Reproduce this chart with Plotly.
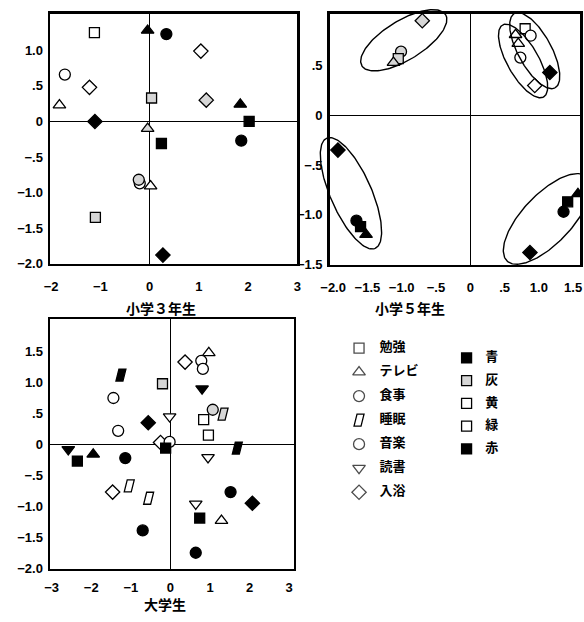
import numpy as np
import plotly.graph_objects as go

W, H = 584, 622

# ---------------- data ----------------
activities = ["勉強", "テレビ", "食事", "睡眠", "音楽", "読書", "入浴"]
colors = ["青", "灰", "黄", "緑", "赤"]

# 小学3年生
p1_act = ["勉強", "テレビ", "食事", "入浴", "食事", "入浴", "テレビ", "勉強", "入浴", "テレビ",
          "入浴", "勉強", "テレビ", "勉強", "音楽", "食事", "音楽", "テレビ", "勉強", "入浴"]
p1_col = ["黄", "青", "赤", "緑", "黄", "黄", "緑", "灰", "灰", "赤",
          "青", "青", "灰", "赤", "赤", "緑", "灰", "黄", "灰", "赤"]
p1_x = [-1.12, -0.04, 0.34, 1.04, -1.72, -1.22, -1.83, 0.04, 1.15, 1.84,
        -1.11, 2.02, -0.04, 0.24, 1.86, -0.20, -0.22, 0.02, -1.10, 0.27]
p1_y = [1.25, 1.28, 1.23, 0.99, 0.66, 0.48, 0.23, 0.33, 0.30, 0.24,
        0.00, 0.00, -0.10, -0.31, -0.27, -0.87, -0.82, -0.91, -1.35, -1.88]

# 小学5年生
p2_act = ["入浴", "食事", "勉強", "テレビ",
          "テレビ", "テレビ", "勉強", "食事", "音楽", "入浴", "入浴",
          "テレビ", "勉強", "食事", "入浴",
          "勉強", "テレビ", "食事", "入浴"]
p2_col = ["灰", "灰", "灰", "灰",
          "黄", "緑", "黄", "黄", "緑", "緑", "赤",
          "青", "青", "青", "青",
          "赤", "赤", "赤", "赤"]
p2_x = [-0.70, -1.01, -1.05, -1.12,
        0.66, 0.70, 0.80, 0.88, 0.73, 0.94, 1.16,
        -1.52, -1.60, -1.66, -1.93,
        1.42, 1.57, 1.36, 0.87]
p2_y = [0.95, 0.64, 0.57, 0.53,
        0.81, 0.72, 0.87, 0.80, 0.58, 0.30, 0.43,
        -1.20, -1.12, -1.06, -0.35,
        -0.87, -0.79, -0.97, -1.38]

# groupings (ellipses) for 小学5年生: centre in data units
ell_cx = [-0.97, 0.77, 0.94, -1.74, 1.12]
ell_cy = [0.754, 0.546, 0.650, -0.784, -1.042]

# 大学生
p3_act = ["入浴", "テレビ", "食事", "音楽", "睡眠", "勉強", "読書", "食事", "読書", "音楽",
          "睡眠", "勉強", "入浴", "音楽", "勉強", "入浴", "食事", "勉強", "睡眠", "読書",
          "テレビ", "勉強", "食事", "読書", "睡眠", "入浴", "音楽", "睡眠", "入浴", "読書",
          "勉強", "テレビ", "音楽", "食事"]
p3_col = ["黄", "緑", "黄", "緑", "青", "灰", "赤", "緑", "黄", "灰",
          "灰", "黄", "青", "黄", "緑", "緑", "黄", "青", "赤", "青",
          "青", "赤", "青", "緑", "黄", "黄", "赤", "緑", "赤", "黄",
          "赤", "黄", "青", "赤"]
p3_x = [0.37, 0.97, 0.78, 0.82, -1.25, -0.20, 0.80, -1.44, -0.02, 1.07,
        1.33, 0.84, -0.56, -1.32, 0.96, -0.25, -0.02, -0.12, 1.69, -2.58,
        -1.95, -2.35, -1.14, 0.95, -1.04, -1.46, 1.52, -0.55, 2.07, 0.64,
        0.74, 1.29, -0.70, 0.64]
p3_y = [1.33, 1.48, 1.35, 1.22, 1.12, 0.98, 0.90, 0.75, 0.45, 0.56,
        0.49, 0.40, 0.35, 0.22, 0.15, 0.03, 0.04, -0.06, -0.06, -0.08,
        -0.16, -0.27, -0.22, -0.21, -0.67, -0.77, -0.77, -0.87, -0.95, -0.96,
        -1.19, -1.23, -1.39, -1.75]

# axis ticks
p1_xt = [-2, -1, 0, 1, 2, 3]
p1_xl = ["−2", "−1", "0", "1", "2", "3"]
p1_yt = [1.0, 0.5, 0, -0.5, -1.0, -1.5, -2.0]
p1_yl = ["1.0", ".5", "0", "−.5", "−1.0", "−1.5", "−2.0"]
p2_xt = [-2.0, -1.5, -1.0, -0.5, 0, 0.5, 1.0, 1.5]
p2_xl = ["−2.0", "−1.5", "−1.0", "−.5", "0", ".5", "1.0", "1.5"]
p2_yt = [0.5, 0, -0.5, -1.0, -1.5]
p2_yl = [".5", "0", "−.5", "−1.0", "−1.5"]
p3_xt = [-3, -2, -1, 0, 1, 2, 3]
p3_xl = ["−3", "−2", "−1", "0", "1", "2", "3"]
p3_yt = [1.5, 1.0, 0.5, 0, -0.5, -1.0, -1.5, -2.0]
p3_yl = ["1.5", "1.0", ".5", "0", "−.5", "−1.0", "−1.5", "−2.0"]

titles = ["小学３年生", "小学５年生", "大学生"]

# ---------------- style ----------------
SYMBOL = {"勉強": "square", "テレビ": "triangle-up", "食事": "circle", "音楽": "circle",
          "読書": "triangle-down", "入浴": "diamond"}
SIZE = {"勉強": 10, "テレビ": 11, "食事": 11, "音楽": 11, "読書": 11, "入浴": 11}
FILL = {"青": "#000000", "灰": "#d6d6d6", "黄": "#ffffff", "緑": "#ffffff", "赤": "#000000"}
PARA = "M -5,-6 L 2,-6 L 5,6 L -2,6 Z"
NUMFONT = dict(family="Liberation Sans, Arial, sans-serif", size=13, color="black", weight="bold")
JPFONT = "Noto Sans CJK JP, sans-serif"
CLEAR = "rgba(0,0,0,0)"

# panel boxes in pixels: (left, right, top, bottom) and ranges
boxes = {
    1: dict(px=(42, 295, 14, 267), xr=[-2.02, 3.0], yr=[-2.005, 1.514], sx=9),
    2: dict(px=(328, 584, 14, 268), xr=[-2.05, 1.6], yr=[-1.505, 1.02], sx=9),
    3: dict(px=(42, 291, 323, 575), xr=[-3.04, 3.11], yr=[-2.005, 2.02], sx=5),
}


def dom(l, r, t, b):
    return [l / W, r / W], [1 - b / H, 1 - t / H]


fig = go.Figure()
shapes = []


def add_panel(k, acts, cols, xs, ys, xt, xl, yt, yl):
    b = boxes[k]
    dx, dy = dom(*b["px"])
    sx = "" if k == 1 else str(k)
    axis_common = dict(showline=True, mirror=True, linewidth=2.5, linecolor="black",
                       showgrid=False, zeroline=True, zerolinecolor="black", zerolinewidth=1.2,
                       ticks="", tickfont=NUMFONT, fixedrange=True, ticklabeloverflow="allow")
    fig.layout["xaxis" + sx] = dict(domain=dx, range=b["xr"], anchor="y" + sx,
                                    tickvals=xt, ticktext=xl, ticklabelstandoff=b["sx"],
                                    **axis_common)
    fig.layout["yaxis" + sx] = dict(domain=dy, range=b["yr"], anchor="x" + sx,
                                    tickvals=yt, ticktext=yl, ticklabelstandoff=2, **axis_common)
    idx = [i for i, a in enumerate(acts) if a != "睡眠"]
    fig.add_trace(go.Scatter(
        x=[xs[i] for i in idx], y=[ys[i] for i in idx], mode="markers",
        xaxis="x" + sx, yaxis="y" + sx, showlegend=False, hoverinfo="skip",
        marker=dict(symbol=[SYMBOL[acts[i]] for i in idx],
                    size=[SIZE[acts[i]] for i in idx],
                    color=[FILL[cols[i]] for i in idx], opacity=1,
                    line=dict(color="black", width=1.3))))
    for i, a in enumerate(acts):
        if a == "睡眠":
            shapes.append(dict(type="path", xref="x" + sx, yref="y" + sx,
                               xsizemode="pixel", ysizemode="pixel",
                               xanchor=xs[i], yanchor=ys[i], path=PARA,
                               fillcolor=FILL[cols[i]], line=dict(color="black", width=1.3),
                               layer="above"))


add_panel(1, p1_act, p1_col, p1_x, p1_y, p1_xt, p1_xl, p1_yt, p1_yl)
add_panel(2, p2_act, p2_col, p2_x, p2_y, p2_xt, p2_xl, p2_yt, p2_yl)
add_panel(3, p3_act, p3_col, p3_x, p3_y, p3_xt, p3_xl, p3_yt, p3_yl)

# ---- ellipses for panel 2 on an unclipped overlay axis with the same scale ----
b2 = boxes[2]
l2, r2, t2, bt2 = b2["px"]
xs2 = (r2 - l2) / (b2["xr"][1] - b2["xr"][0])
ys2 = (bt2 - t2) / (b2["yr"][1] - b2["yr"][0])
ov = (296, 584, 0, 300)
ovx = [b2["xr"][0] + (ov[0] - l2) / xs2, b2["xr"][0] + (ov[1] - l2) / xs2]
ovy = [b2["yr"][0] - (ov[3] - bt2) / ys2, b2["yr"][0] + (bt2 - ov[2]) / ys2]
dxo, dyo = dom(*ov)
fig.layout["xaxis4"] = dict(domain=dxo, range=ovx, visible=False, anchor="y4", fixedrange=True)
fig.layout["yaxis4"] = dict(domain=dyo, range=ovy, visible=False, anchor="x4", fixedrange=True)

ell_a = [50, 42, 43, 61, 59]       # semi-axes in px
ell_b = [20, 16, 17, 21, 25]
ell_ang = [31, -60, -61, -66, 46]  # degrees
t = np.linspace(0, 2 * np.pi, 160)
for cx, cy, a, bb, ang in zip(ell_cx, ell_cy, ell_a, ell_b, ell_ang):
    th = np.deg2rad(ang)
    u, v = a * np.cos(t), bb * np.sin(t)
    ex = cx + (u * np.cos(th) - v * np.sin(th)) / xs2
    ey = cy + (u * np.sin(th) + v * np.cos(th)) / ys2
    fig.add_trace(go.Scatter(x=ex, y=ey, mode="lines", xaxis="x4", yaxis="y4",
                             line=dict(color="black", width=1.4), showlegend=False,
                             hoverinfo="skip"))

# ---- legend on its own invisible axis (pixel-like units) ----
lg = (330, 560, 330, 520)
dxl, dyl = dom(*lg)
fig.layout["xaxis5"] = dict(domain=dxl, range=[lg[0], lg[1]], visible=False, anchor="y5", fixedrange=True)
fig.layout["yaxis5"] = dict(domain=dyl, range=[lg[3], lg[2]], visible=False, anchor="x5", fixedrange=True)

r1 = [352 + i * 24.3 for i in range(len(activities))]
acts_nopara = [a for a in activities if a != "睡眠"]
fig.add_trace(go.Scatter(
    x=[358] * len(acts_nopara), y=[r1[activities.index(a)] for a in acts_nopara],
    mode="markers", xaxis="x5", yaxis="y5", showlegend=False, hoverinfo="skip",
    marker=dict(symbol=[SYMBOL[a] for a in acts_nopara], size=[SIZE[a] for a in acts_nopara],
                color="white", line=dict(color="black", width=1.3))))
shapes.append(dict(type="path", xref="x5", yref="y5", xsizemode="pixel", ysizemode="pixel",
                   xanchor=358, yanchor=r1[activities.index("睡眠")], path=PARA,
                   fillcolor="white", line=dict(color="black", width=1.3)))
fig.add_trace(go.Scatter(
    x=[379] * len(activities), y=r1, text=activities, mode="text", textposition="middle right",
    xaxis="x5", yaxis="y5", showlegend=False, hoverinfo="skip",
    textfont=dict(family=JPFONT, size=13, color="black", weight="bold")))

r2r = [362 + i * 23 for i in range(len(colors))]
fig.add_trace(go.Scatter(
    x=[468] * len(colors), y=r2r, mode="markers", xaxis="x5", yaxis="y5",
    showlegend=False, hoverinfo="skip",
    marker=dict(symbol="square", size=10, color=[FILL[c] for c in colors],
                line=dict(color="black", width=1.3))))
fig.add_trace(go.Scatter(
    x=[487] * len(colors), y=r2r, text=colors, mode="text", textposition="middle right",
    xaxis="x5", yaxis="y5", showlegend=False, hoverinfo="skip",
    textfont=dict(family=JPFONT, size=13, color="black", weight="bold")))

# ---- titles ----
title_pos = [(155, 311, "middle"), (410, 311, "middle"), (160, 622, "bottom")]
annotations = [dict(text=s, x=px / W, y=1 - py / H, xref="paper", yref="paper",
                    showarrow=False, xanchor="center", yanchor=ya, borderpad=0,
                    font=dict(family=JPFONT, size=14, color="black", weight="bold"))
               for s, (px, py, ya) in zip(titles, title_pos)]

fig.update_layout(width=W, height=H, margin=dict(l=0, r=0, t=0, b=0),
                  paper_bgcolor="white", plot_bgcolor=CLEAR,
                  shapes=shapes, annotations=annotations, showlegend=False)

fig.write_html("out.html", config={"displayModeBar": False, "staticPlot": True},
               post_script="document.body.style.margin='0px';document.body.style.overflow='hidden';")
